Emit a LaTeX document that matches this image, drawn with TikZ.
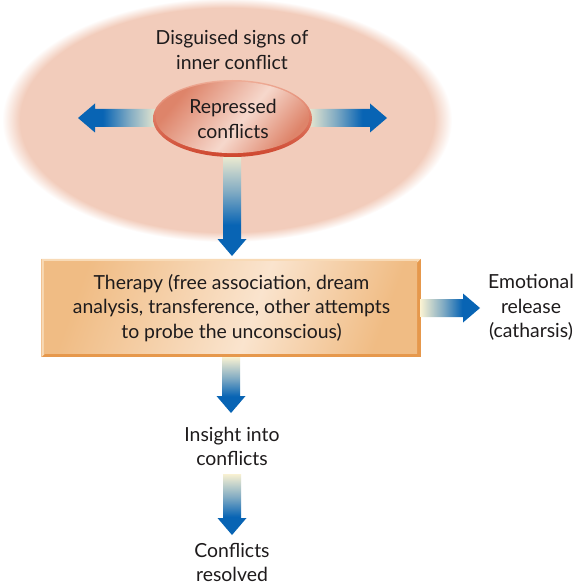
\documentclass[tikz,border=0pt]{standalone}
\usepackage{fontspec}
\setmainfont{Lato}
\usetikzlibrary{calc,shapes.geometric}

% palette
\definecolor{inkgray}{RGB}{30,27,28}
\definecolor{peach}{RGB}{242,204,187}
\definecolor{flowpale}{RGB}{248,241,210}
\definecolor{flowblue}{RGB}{8,100,180}
\colorlet{flowmid}{flowpale!50!flowblue}
\definecolor{repdark}{RGB}{222,132,106}
\definecolor{replight}{RGB}{246,216,204}
\definecolor{repedge}{RGB}{206,70,46}
\definecolor{repedgelight}{RGB}{238,172,150}
\definecolor{boxedge}{RGB}{230,152,76}
\definecolor{boxlight}{RGB}{248,218,182}
\definecolor{boxdark}{RGB}{240,188,132}
\definecolor{boxpale}{RGB}{250,228,206}

% pale-to-blue flow used by all arrows
\pgfdeclarehorizontalshading{flow}{100bp}{color(0bp)=(flowpale); color(25bp)=(flowpale); color(44bp)=(flowmid); color(60bp)=(flowblue); color(100bp)=(flowblue)}
% soft-edged background cloud
\pgfdeclareradialshading{halo}{\pgfpoint{0bp}{0bp}}{color(0bp)=(peach); color(23bp)=(peach); color(25bp)=(white); color(50bp)=(white)}
% glossy fill of the inner ellipse
\pgfdeclarehorizontalshading{repfill}{100bp}{color(0bp)=(repdark); color(27bp)=(repdark); color(54bp)=(replight); color(75bp)=(repdark); color(100bp)=(repdark)}
% fill of the therapy box
\pgfdeclarehorizontalshading{boxfill}{100bp}{color(0bp)=(boxdark); color(25bp)=(boxdark); color(54bp)=(boxpale); color(75bp)=(boxdark); color(100bp)=(boxdark)}

% block arrows: shaft 18, head 29 wide and 17 long
\newcommand\flowright[2]{%
  \path[shading=flow] let \p1=(#1), \p2=(#2) in
    (\x1,\y1+9pt) -- (\x2-17pt,\y1+9pt) -- (\x2-17pt,\y1+14.5pt) -- (\x2,\y1)
    -- (\x2-17pt,\y1-14.5pt) -- (\x2-17pt,\y1-9pt) -- (\x1,\y1-9pt) -- cycle;}
\newcommand\flowleft[2]{%
  \path[shading=flow, shading angle=180] let \p1=(#1), \p2=(#2) in
    (\x1,\y1+9pt) -- (\x2+17pt,\y1+9pt) -- (\x2+17pt,\y1+14.5pt) -- (\x2,\y1)
    -- (\x2+17pt,\y1-14.5pt) -- (\x2+17pt,\y1-9pt) -- (\x1,\y1-9pt) -- cycle;}
\newcommand\flowdown[2]{%
  \path[shading=flow, shading angle=-90] let \p1=(#1), \p2=(#2) in
    (\x1-9pt,\y1) -- (\x1-9pt,\y2+17pt) -- (\x1-14.5pt,\y2+17pt) -- (\x1,\y2)
    -- (\x1+14.5pt,\y2+17pt) -- (\x1+9pt,\y2+17pt) -- (\x1+9pt,\y1) -- cycle;}

\begin{document}
\begin{tikzpicture}[x=1pt,y=-1pt,
  txt/.style={font=\fontsize{19.4}{24.4}\selectfont, text=inkgray, align=center, inner sep=0pt}]
\useasboundingbox[fill=white] (0,0) rectangle (583,585);

% background cloud
\path[shading=halo] (227,120) ellipse [x radius=225, y radius=122];

% nodes
\node[txt] (signs) at (232,50) {Disguised signs of\\inner conflict};
\node[ellipse, minimum width=159pt, minimum height=77pt, inner sep=0pt] (rep) at (232.5,118.5) {};
\node[minimum width=379pt, minimum height=98pt, inner sep=0pt] (therapy) at (231,308) {};
\node[txt] (emo) at (531,307.5) {Emotional\\release\\(catharsis)};
\node[txt] (insight) at (232,446.5) {Insight into\\conflicts};
\node[txt] (resolved) at (232,562.5) {Conflicts\\resolved};

% arrow tips
\coordinate (leftTip) at (78,118);
\coordinate (rightTip) at (387,118);
\coordinate (therapyTip) at (232,256);
\coordinate (emoTip) at (480,308);
\coordinate (insightTip) at (232,413);
\coordinate (resolvedTip) at (232,535);

% arrows leaving the repressed conflicts
\flowleft{$(rep.center)+(-72,-0.5)$}{leftTip}
\flowright{$(rep.center)+(72,-0.5)$}{rightTip}
\flowdown{$(rep.center)+(-0.5,34)$}{therapyTip}

% repressed conflicts ellipse
\shade[top color=repedgelight, bottom color=repedge] (rep.center) ellipse [x radius=79.5, y radius=38.5];
\shade[shading=repfill, shading angle=-40] ($(rep.center)+(0,-1.2)$) ellipse [x radius=76.8, y radius=35.8];
\node[txt] at (233,119) {Repressed\\conflicts};

% therapy box
\fill[boxedge] (therapy.north west) rectangle (therapy.south east);
\fill[boxlight] (therapy.north west) -- (therapy.north east) -- ++(-3.5,3.5) -- ($(therapy.south west)+(3.5,-3.5)$) -- (therapy.south west) -- cycle;
\shade[shading=boxfill, shading angle=-20] ($(therapy.north west)+(2.5,2.5)$) rectangle ($(therapy.south east)+(-3.5,-3.5)$);
\node[txt] at (231.5,308) {Therapy (free association, dream\\analysis, transference, other attempts\\to probe the unconscious)};

% remaining flow
\flowright{therapy.east}{emoTip}
\flowdown{therapy.south}{insightTip}
\flowdown{$(insight.south)+(0,8)$}{resolvedTip}
\end{tikzpicture}
\end{document}
